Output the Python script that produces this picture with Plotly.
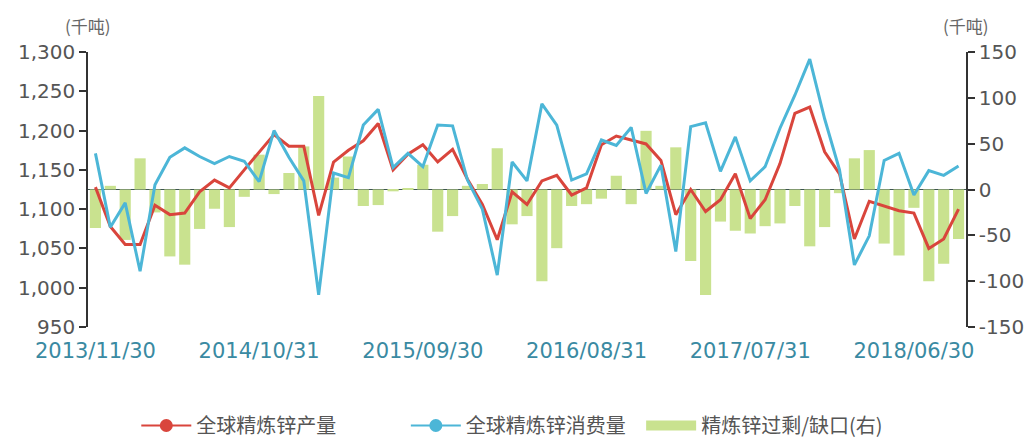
import pandas as pd
import plotly.graph_objects as go

# month-end dates, 2013/11 .. 2018/09
dates = pd.date_range("2013-11-30", periods=59, freq="ME").strftime("%Y/%m/%d").tolist()
tick_idx = [0, 11, 22, 33, 44, 55]

# 全球精炼锌产量 (千吨)
production = [
    1128, 1078, 1055, 1055, 1105, 1093, 1095, 1122, 1137, 1127, 1150, 1173,
    1195, 1180, 1180, 1092, 1160, 1175, 1187, 1209, 1150, 1170, 1182, 1160,
    1176, 1138, 1106, 1061, 1122, 1106, 1136, 1143, 1118, 1127, 1182, 1193,
    1188, 1183, 1162, 1093, 1125, 1097, 1112, 1145, 1088, 1112, 1158, 1222,
    1230, 1173, 1145, 1062, 1110, 1104, 1098, 1095, 1050, 1062, 1100,
]
# 全球精炼锌消费量 (千吨)
consumption = [
    1171, 1077, 1108, 1021, 1131, 1166, 1178, 1167, 1158, 1167, 1161, 1135,
    1200, 1166, 1136, 991, 1146, 1140, 1207, 1227, 1153, 1171, 1154, 1207,
    1206, 1137, 1100, 1016, 1160, 1136, 1234, 1207, 1137, 1145, 1188, 1181,
    1204, 1120, 1156, 1046, 1205, 1210, 1148, 1192, 1136, 1154, 1203, 1245,
    1291, 1215, 1150, 1029, 1066, 1162, 1171, 1118, 1149, 1143, 1155,
]
# 精炼锌过剩/缺口 (千吨, 右轴)
balance = [
    -42, 4, -55, 34, -25, -73, -82, -43, -21, -41, -8, 38,
    -5, 18, 47, 102, 13, 36, -18, -17, -2, 1, 27, -46,
    -29, 4, 6, 45, -38, -29, -100, -64, -18, -16, -10, 15,
    -16, 64, 4, 46, -78, -115, -35, -45, -48, -40, -37, -18,
    -62, -41, -4, 34, 43, -59, -72, -20, -100, -81, -54,
]

left_ticks = [950, 1000, 1050, 1100, 1150, 1200, 1250, 1300]
right_ticks = [-150, -100, -50, 0, 50, 100, 150]

RED = "#d9453c"
BLUE = "#4cb6d7"
GREEN = "#c9e28f"
AXIS = "#333333"
NUM_FONT = "DejaVu Sans, sans-serif"
CJK_FONT = "Noto Sans CJK SC, sans-serif"

fig = go.Figure()
fig.add_trace(go.Bar(x=dates, y=balance, marker_color=GREEN, yaxis="y",
                     showlegend=False))
fig.add_trace(go.Scatter(x=dates, y=production, mode="lines", yaxis="y2",
                         line=dict(color=RED, width=3), showlegend=False))
fig.add_trace(go.Scatter(x=dates, y=consumption, mode="lines", yaxis="y2",
                         line=dict(color=BLUE, width=3), showlegend=False))

# legend entries, each in its own legend box so they can be spaced like the original
fig.add_trace(go.Scatter(x=[None], y=[None], mode="lines+markers", yaxis="y2",
                         name="全球精炼锌产量", line=dict(color=RED, width=2),
                         marker=dict(size=13, color=RED), legend="legend"))
fig.add_trace(go.Scatter(x=[None], y=[None], mode="lines+markers", yaxis="y2",
                         name="全球精炼锌消费量", line=dict(color=BLUE, width=2),
                         marker=dict(size=13, color=BLUE), legend="legend2"))
fig.add_trace(go.Scatter(x=[None], y=[None], mode="lines", yaxis="y",
                         name="精炼锌过剩/缺口(右)", line=dict(color=GREEN, width=14),
                         legend="legend3"))

leg = dict(orientation="h", yref="container", y=0.085, yanchor="top", xanchor="left",
           font=dict(family=CJK_FONT, size=20, color="#555555"),
           bgcolor="rgba(0,0,0,0)", itemwidth=50)

# page body adds an 8px offset, so the figure is kept 8px smaller than the window
fig.update_layout(
    template="none",
    width=1024, height=435,
    margin=dict(l=80, r=66, t=44, b=116),
    paper_bgcolor="white", plot_bgcolor="white",
    font=dict(family=NUM_FONT, size=20, color="#555555"),
    bargap=0.25,
    xaxis=dict(type="category", tickvals=[dates[i] for i in tick_idx],
               ticktext=[dates[i] for i in tick_idx], showline=False, ticks="",
               showgrid=False, zeroline=False, automargin=False,
               tickfont=dict(color="#3a8aa2", size=21), ticklabelstandoff=9),
    yaxis=dict(side="right", range=[-150, 150], tickvals=right_ticks,
               ticktext=[str(v) for v in right_ticks], showgrid=False,
               showline=True, linecolor=AXIS, linewidth=1.5, ticks="outside",
               ticklen=7, tickcolor=AXIS, tickwidth=1.5, zeroline=True,
               zerolinecolor="#3e5550", zerolinewidth=1.2, automargin=False),
    yaxis2=dict(side="left", overlaying="y", range=[950, 1300], tickvals=left_ticks,
                tickformat=",", showgrid=False, showline=True, linecolor=AXIS,
                linewidth=1.5, ticks="outside", ticklen=7, tickcolor=AXIS,
                tickwidth=1.5, zeroline=False, automargin=False),
    legend=dict(leg, x=0.055),
    legend2=dict(leg, x=0.362),
    legend3=dict(leg, x=0.63),
)

for x in (0, 1):
    fig.add_annotation(x=x, y=1.0, xref="paper", yref="paper", xanchor="center",
                       yanchor="middle", yshift=27, text="(千吨)", showarrow=False,
                       font=dict(family=CJK_FONT, size=17, color="#666666"))

fig.write_html("out.html")
